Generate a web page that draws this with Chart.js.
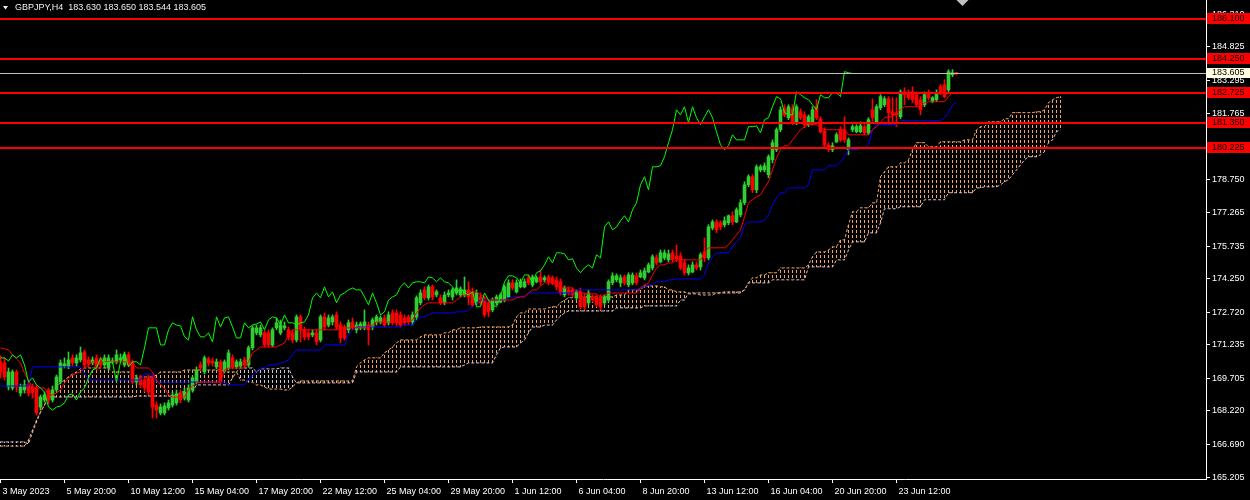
<!DOCTYPE html>
<html><head><meta charset="utf-8">
<script src="https://cdn.jsdelivr.net/npm/chart.js@4.4.0/dist/chart.umd.min.js"></script>
<style>html,body{margin:0;padding:0;background:#000;overflow:hidden}canvas{display:block}</style>
</head><body>
<canvas id="c" width="1250" height="500"></canvas>
<script>
const symbolTitle = "GBPJPY,H4  183.630 183.650 183.544 183.605";

const openP = [
170.46,170.41,169.32,169.27,170.00,169.04,169.18,169.41,169.32,169.27,
168.40,168.72,169.18,168.72,169.18,169.54,170.27,170.23,170.64,170.41,
170.55,170.91,170.55,170.41,170.64,170.55,170.32,170.18,170.46,170.46,
170.55,170.32,170.78,170.41,169.54,169.73,169.63,169.73,169.73,168.49,
168.13,168.13,168.36,168.49,168.59,169.04,168.81,168.72,169.18,169.54,
170.32,170.00,170.59,170.50,170.23,170.46,170.05,170.18,170.64,170.23,
170.27,170.55,170.32,171.10,171.78,171.69,171.78,171.78,171.23,172.01,
171.78,172.01,171.92,171.78,171.46,172.51,171.92,171.78,171.69,171.78,
171.46,172.51,172.14,172.28,172.60,172.14,172.05,171.92,172.28,171.92,
172.01,172.01,172.14,172.05,172.28,172.28,172.46,172.24,172.69,172.69,
172.60,172.46,172.51,172.28,172.51,173.15,173.74,173.38,173.88,173.51,
173.38,173.15,173.51,173.42,173.60,173.51,173.51,173.74,173.65,173.15,
173.42,173.28,173.15,172.83,173.15,173.19,173.28,173.42,174.06,173.65,
173.88,173.88,174.29,173.97,174.11,174.33,174.20,174.33,174.29,174.20,
174.11,173.51,173.74,173.74,173.38,173.65,173.42,173.15,173.42,173.42,
173.38,173.15,173.28,174.06,174.20,174.06,174.33,173.97,174.06,174.38,
174.33,174.29,174.56,174.74,175.20,175.02,175.20,175.11,175.43,175.29,
175.29,174.97,174.52,174.56,174.88,174.79,175.47,175.20,176.57,176.84,
176.80,176.71,176.80,177.12,176.84,177.16,177.71,178.53,178.90,178.30,
179.21,179.21,178.99,179.67,180.13,181.04,182.00,181.59,182.00,181.36,
181.86,181.72,181.27,181.36,182.09,181.54,180.99,180.35,180.13,180.49,
181.04,181.04,180.13,181.04,180.95,180.95,181.18,180.90,181.95,181.40,
182.04,182.18,182.45,181.86,181.82,181.63,182.77,182.73,182.77,182.64,
182.41,182.18,182.73,182.32,182.41,183.00,183.09,182.86,183.55,183.630];

const highP = [
170.73,170.64,170.18,170.09,170.09,169.45,169.63,169.54,169.45,169.41,
168.95,169.09,169.27,169.36,169.86,170.55,170.64,170.91,170.78,170.78,
171.14,171.00,170.68,170.68,170.78,170.68,170.78,170.78,170.64,171.00,
170.82,170.91,170.91,170.55,169.86,169.86,169.77,169.86,169.82,168.63,
168.54,168.59,168.72,169.09,169.18,169.18,169.27,169.41,169.82,170.23,
170.46,170.73,170.68,170.64,170.59,170.55,170.55,171.00,170.78,170.55,
170.59,170.68,171.19,172.10,172.14,172.14,171.92,171.92,172.01,172.46,
172.37,172.28,172.05,171.92,172.60,172.60,172.05,171.92,171.92,171.92,
172.60,172.69,172.60,172.60,172.74,172.28,172.14,172.37,172.46,172.28,
172.28,172.83,172.28,172.46,172.60,172.55,172.60,172.74,172.83,172.83,
172.74,172.60,172.60,172.74,173.47,173.74,173.88,173.97,173.97,173.74,
173.51,173.65,173.74,173.83,174.20,173.88,174.33,174.11,173.83,173.74,
173.60,173.42,173.28,173.38,173.51,173.60,173.97,174.20,174.20,174.20,
174.24,174.24,174.42,174.42,174.38,174.65,174.38,174.42,174.38,174.33,
174.24,173.92,173.88,173.83,173.74,173.83,173.60,173.74,173.51,173.51,
173.51,173.51,174.20,174.52,174.47,174.42,174.42,174.52,174.52,174.52,
174.65,174.74,174.97,175.34,175.34,175.56,175.56,175.56,175.56,175.79,
175.43,175.11,174.88,175.02,175.02,175.43,176.11,176.71,176.93,176.93,
176.89,177.07,177.16,177.30,177.48,177.85,178.67,178.99,178.99,179.44,
179.44,179.53,179.90,180.58,181.13,182.09,182.18,182.18,182.18,182.18,
182.00,181.86,181.72,182.09,182.41,181.63,181.13,180.45,180.45,180.90,
181.18,181.63,180.67,181.27,181.27,181.40,181.27,181.59,182.45,182.18,
182.64,182.55,182.55,182.50,182.50,182.86,182.96,182.86,183.00,182.77,
182.55,182.77,182.86,182.55,182.86,183.09,183.32,183.78,183.78,183.650];

const lowP = [
169.73,169.63,169.18,169.18,169.09,168.90,169.04,168.90,168.81,168.04,
168.26,168.63,168.54,168.63,169.09,169.45,170.18,170.14,170.27,170.27,
170.46,170.23,170.23,170.32,170.09,170.18,170.18,170.09,170.37,170.37,
170.46,170.23,170.23,169.45,169.41,169.27,169.09,168.95,167.90,167.90,
168.04,168.04,168.26,168.40,168.49,168.59,168.72,168.63,169.09,169.45,
170.05,169.91,170.27,170.27,170.14,169.45,169.95,170.09,170.14,170.14,
170.18,170.23,170.23,171.00,171.69,171.60,171.14,171.14,171.14,171.92,
171.69,171.92,171.46,171.32,171.37,171.37,171.46,171.46,171.60,171.23,
171.37,171.92,172.05,172.14,171.92,171.32,171.46,171.78,171.92,171.78,
171.92,171.92,171.23,171.92,172.14,172.19,172.05,172.14,172.14,172.10,
172.05,172.14,172.14,172.14,172.37,173.06,173.28,173.28,173.28,173.42,
173.06,173.06,173.42,173.28,173.51,173.42,173.42,173.06,172.97,173.06,
173.06,172.51,172.51,172.74,173.06,173.15,173.19,173.38,173.74,173.60,
173.83,173.83,173.97,173.88,174.06,173.97,174.11,173.97,173.97,173.74,
173.51,173.42,173.51,173.42,173.28,172.87,172.83,173.06,173.19,172.97,
172.83,173.06,173.19,173.97,174.11,173.88,173.97,173.88,173.97,173.97,
174.29,174.20,174.52,174.65,174.88,174.97,175.11,175.02,175.02,175.02,
174.65,174.42,174.42,174.52,174.65,174.65,175.02,175.11,176.48,176.34,
176.48,176.61,176.71,176.71,176.80,177.07,177.62,178.44,178.17,178.17,
179.12,179.12,178.85,179.53,180.04,180.95,181.63,181.50,181.27,181.27,
181.50,181.13,181.18,181.27,181.50,180.90,180.26,180.04,180.04,180.45,
180.49,180.45,179.90,180.95,180.90,180.90,180.81,180.81,181.36,181.36,
181.95,182.09,181.27,181.36,181.18,181.54,182.18,182.41,182.27,182.09,
181.72,182.09,182.41,182.27,182.32,182.64,182.50,182.77,183.46,183.544];

const closeP = [
170.00,169.77,170.00,170.00,169.32,169.32,169.41,169.04,169.04,168.13,
168.86,168.95,168.72,169.18,169.77,170.41,170.37,170.55,170.41,170.64,
170.87,170.32,170.37,170.55,170.23,170.32,170.64,170.64,170.50,170.78,
170.64,170.78,170.32,169.54,169.73,169.41,169.27,169.09,168.40,168.26,
168.40,168.45,168.59,168.95,169.00,168.72,169.09,169.27,169.73,170.09,
170.18,170.64,170.41,170.41,170.46,169.54,170.46,170.87,170.23,170.46,
170.46,170.32,171.10,172.01,172.01,172.01,171.23,171.23,171.92,172.24,
172.14,172.10,171.60,171.46,172.51,171.92,171.60,171.60,171.78,171.37,
172.51,172.05,172.46,172.51,172.05,171.55,171.55,172.24,172.01,172.14,
172.19,172.28,171.92,172.37,172.51,172.46,172.14,172.60,172.24,172.24,
172.14,172.24,172.28,172.60,173.38,173.60,173.38,173.88,173.42,173.65,
173.15,173.51,173.60,173.74,173.83,173.74,173.74,173.42,173.06,173.60,
173.15,172.60,172.74,173.28,173.42,173.51,173.88,174.06,173.83,174.06,
174.11,174.11,174.06,174.33,174.29,174.11,174.29,174.11,174.06,173.88,
173.60,173.83,173.60,173.51,173.65,172.97,172.97,173.60,173.28,173.06,
172.97,173.42,174.11,174.38,174.38,174.29,174.06,174.42,174.42,174.06,
174.52,174.61,174.88,175.25,174.97,175.43,175.43,175.38,175.11,175.16,
174.74,174.52,174.74,174.88,174.74,175.34,175.20,176.61,176.84,176.48,
176.61,176.89,177.12,176.84,177.39,177.71,178.53,178.90,178.30,179.35,
179.35,179.40,179.81,180.45,181.04,181.95,181.72,182.09,181.36,182.09,
181.59,181.27,181.63,181.95,181.59,180.95,180.35,180.13,180.31,180.81,
180.58,180.58,180.58,181.18,181.18,181.22,180.90,181.50,181.59,182.09,
182.55,182.45,181.82,181.72,181.72,182.77,182.64,182.50,182.41,182.18,
181.95,182.64,182.50,182.50,182.73,182.73,182.55,183.69,183.64,183.605];

const tenkanSen = [
171.10,171.05,171.00,170.78,170.59,170.41,169.95,169.63,169.27,169.27,
169.27,169.27,168.95,168.95,169.04,169.18,169.50,169.73,169.86,169.95,
170.00,170.18,170.32,170.46,170.46,170.46,170.46,170.46,170.46,170.46,
170.46,170.46,170.46,170.46,170.18,170.18,170.18,170.18,170.00,169.63,
169.41,169.27,168.95,168.86,168.86,168.86,168.86,169.18,169.36,169.50,
169.54,169.54,169.54,169.54,169.54,169.54,170.09,170.18,170.18,170.18,
170.18,170.18,170.46,170.87,171.00,171.14,171.14,171.14,171.14,171.14,
171.23,171.32,171.69,171.92,171.92,171.92,171.92,171.92,171.92,171.92,
171.92,171.92,171.92,171.92,171.92,172.01,172.01,172.01,172.01,172.01,
172.01,172.01,172.01,172.14,172.28,172.28,172.28,172.28,172.28,172.28,
172.28,172.28,172.28,172.37,172.69,172.92,173.06,173.15,173.15,173.15,
173.15,173.15,173.15,173.15,173.28,173.42,173.51,173.65,173.65,173.65,
173.51,173.42,173.28,173.28,173.28,173.28,173.28,173.28,173.28,173.38,
173.42,173.42,173.60,173.74,173.74,173.92,174.06,174.06,174.06,173.97,
173.83,173.83,173.83,173.83,173.65,173.65,173.56,173.56,173.56,173.56,
173.42,173.51,173.60,173.60,173.60,173.60,173.60,173.60,173.60,173.60,
173.83,173.97,174.06,174.42,174.74,174.88,174.88,174.97,174.97,175.11,
175.11,175.11,175.11,175.11,175.11,175.11,175.43,175.66,175.66,175.66,
175.66,175.66,175.79,176.02,176.25,176.48,177.07,177.71,177.85,177.98,
178.07,178.39,178.67,179.21,179.76,180.13,180.31,180.31,180.58,180.81,
181.04,181.18,181.27,181.27,181.27,181.13,181.04,181.04,181.04,181.04,
181.04,181.04,180.81,180.81,180.81,180.81,180.81,180.81,181.04,181.18,
181.40,181.59,181.63,181.63,181.82,181.95,182.09,182.09,182.09,182.09,
182.09,182.27,182.32,182.32,182.32,182.32,182.32,182.55,182.73,182.73];

const kijunSen = [
169.36,169.36,169.36,169.36,169.36,169.36,169.36,169.36,170.23,170.23,
170.23,170.23,170.23,170.23,170.23,170.23,170.23,170.23,170.23,170.23,
170.23,169.95,169.63,169.63,169.63,169.63,169.63,169.63,169.63,169.63,
169.63,169.63,169.63,169.63,169.63,169.63,169.91,169.91,169.91,169.54,
169.54,169.54,169.54,169.54,169.54,169.54,169.54,169.54,169.54,169.54,
169.54,169.54,169.54,169.54,169.54,169.54,169.54,169.41,169.41,169.41,
169.41,169.41,169.63,169.82,170.00,170.18,170.18,170.32,170.32,170.32,
170.41,170.46,170.55,170.78,171.00,171.00,171.00,171.00,171.00,171.00,
171.00,171.23,171.23,171.23,171.23,171.23,171.23,171.69,171.92,172.05,
172.05,172.05,172.05,172.05,172.05,172.05,172.05,172.05,172.05,172.05,
172.05,172.14,172.14,172.14,172.37,172.51,172.51,172.60,172.69,172.69,
172.69,172.69,172.69,172.69,172.74,172.74,172.74,172.83,172.97,173.15,
173.28,173.28,173.28,173.28,173.28,173.28,173.28,173.38,173.42,173.42,
173.42,173.42,173.60,173.60,173.60,173.60,173.60,173.60,173.60,173.60,
173.60,173.60,173.60,173.60,173.74,173.74,173.74,173.74,173.74,173.74,
173.74,173.74,173.74,173.74,173.74,173.74,173.74,173.74,173.74,173.74,
173.83,173.88,173.97,173.97,174.11,174.11,174.11,174.20,174.20,174.24,
174.24,174.24,174.24,174.24,174.24,174.24,174.42,174.97,175.25,175.43,
175.43,175.43,175.43,175.70,175.93,176.11,176.71,176.84,176.84,176.84,
176.84,176.93,177.16,177.62,177.94,178.17,178.17,178.39,178.39,178.39,
178.39,178.39,178.53,179.21,179.21,179.21,179.21,179.40,179.40,179.40,
179.58,179.81,180.13,180.13,180.13,180.22,180.22,180.35,181.04,181.27,
181.27,181.27,181.27,181.27,181.27,181.45,181.45,181.45,181.45,181.45,
181.45,181.45,181.45,181.45,181.45,181.45,181.59,181.82,182.18,182.27];

const senkouA = [
166.62,166.62,166.62,166.62,166.62,166.62,166.62,166.90,167.35,167.81,
168.17,168.49,168.90,169.18,169.36,169.50,169.63,169.77,169.91,170.00,
170.14,170.18,170.18,170.18,170.18,170.18,170.18,170.18,170.00,170.00,
170.00,170.00,170.00,170.00,169.77,169.77,169.77,169.77,169.77,169.86,
170.00,170.00,170.00,170.00,170.00,170.00,170.09,170.09,170.09,170.09,
170.09,170.09,170.09,170.09,170.09,170.09,170.00,170.00,170.00,170.00,
169.63,169.63,169.54,169.54,169.41,169.41,169.32,169.22,169.22,169.22,
169.22,169.18,169.18,169.32,169.50,169.59,169.59,169.59,169.59,169.59,
169.59,169.59,169.59,169.59,169.59,169.59,169.59,169.59,169.59,170.23,
170.41,170.55,170.64,170.64,170.64,170.64,170.87,171.00,171.14,171.32,
171.46,171.46,171.46,171.46,171.46,171.60,171.69,171.69,171.69,171.69,
171.69,171.78,171.78,171.92,171.92,172.01,172.01,172.01,172.01,172.01,
172.05,172.05,172.05,172.05,172.05,172.05,172.05,172.05,172.14,172.51,
172.69,172.69,172.87,172.87,172.87,172.87,172.87,172.92,172.97,172.97,
173.15,173.28,173.38,173.38,173.42,173.42,173.42,173.42,173.42,173.42,
173.42,173.42,173.42,173.42,173.51,173.51,173.51,173.74,173.74,173.74,
173.74,173.92,173.92,173.92,173.92,173.88,173.88,173.74,173.74,173.65,
173.65,173.65,173.56,173.56,173.56,173.51,173.51,173.51,173.51,173.60,
173.60,173.65,173.65,173.65,173.65,173.65,173.74,174.06,174.29,174.29,
174.42,174.42,174.52,174.52,174.52,174.74,174.74,174.74,174.74,174.74,
174.74,174.74,174.88,175.25,175.47,175.47,175.47,175.56,175.70,175.70,
176.02,176.02,176.71,177.30,177.30,177.48,177.48,177.48,177.71,177.71,
178.90,179.12,179.35,179.35,179.35,179.53,179.53,179.67,180.13,180.45,
180.45,180.45,180.26,180.26,180.26,180.49,180.49,180.49,180.49,180.49,
180.49,180.58,180.58,180.58,181.04,181.18,181.18,181.40,181.40,181.40,
181.40,181.54,181.54,181.82,181.82,181.82,181.82,181.82,181.82,181.86,
181.86,181.95,182.27,182.41,182.50,182.55];

const senkouB = [
166.81,166.81,166.81,166.81,166.81,166.81,166.81,166.72,167.26,167.72,
168.17,168.49,168.86,168.86,168.86,168.86,168.86,168.86,168.86,168.86,
168.86,168.86,168.86,168.86,168.86,168.86,168.86,168.86,168.86,168.86,
168.86,168.86,168.86,168.86,168.90,168.90,168.90,168.90,168.90,168.90,
168.90,168.90,168.90,168.90,168.90,169.09,169.09,169.09,169.09,169.41,
169.41,169.41,169.41,169.41,169.41,169.41,169.41,169.41,169.73,170.00,
170.18,170.18,170.18,170.18,170.00,170.14,170.14,170.14,170.14,170.14,
170.18,170.18,170.18,169.77,169.50,169.50,169.50,169.50,169.50,169.50,
169.50,169.50,169.50,169.50,169.50,169.50,169.50,169.50,169.50,170.00,
170.00,170.00,170.00,170.00,170.00,170.00,170.00,170.00,170.00,170.00,
170.23,170.23,170.23,170.23,170.23,170.23,170.23,170.23,170.23,170.23,
170.23,170.23,170.23,170.23,170.23,170.23,170.32,170.41,170.41,170.41,
170.41,170.41,170.41,170.41,170.78,171.10,171.14,171.14,171.14,171.14,
171.32,171.46,171.78,172.05,172.05,172.05,172.14,172.14,172.14,172.37,
172.55,172.69,172.78,172.78,172.78,172.78,172.78,172.78,172.78,172.78,
172.78,172.78,172.78,172.78,172.92,172.92,172.92,172.92,172.92,172.92,
172.92,173.01,173.01,173.01,173.01,173.01,173.01,173.01,173.01,173.01,
173.28,173.28,173.60,173.60,173.60,173.60,173.60,173.60,173.60,173.60,
173.60,173.60,173.60,173.60,173.60,173.60,173.74,174.06,174.06,174.06,
174.06,174.06,174.06,174.20,174.20,174.20,174.20,174.20,174.20,174.20,
174.20,174.20,174.79,174.79,174.79,174.79,174.79,174.79,174.79,175.11,
175.11,175.11,175.56,175.93,175.93,175.93,175.93,176.34,176.34,176.34,
176.80,177.44,177.44,177.44,177.44,177.53,177.53,177.53,177.53,177.53,
177.53,177.85,177.85,177.85,177.85,177.85,177.85,178.17,178.17,178.17,
178.17,178.17,178.17,178.17,178.39,178.39,178.44,178.44,178.44,178.44,
178.53,178.67,178.76,178.99,179.21,179.44,179.67,179.81,179.81,179.81,
179.90,180.04,180.45,180.58,180.95,181.04];

const chikouShift = 26;
const levelLines = [186.100, 184.250, 182.725, 181.350, 180.225];
const currentPrice = 183.605;
const yTickValues = [186.310,184.825,183.295,181.765,180.280,178.750,177.265,175.735,174.250,172.720,171.235,169.705,168.220,166.690,165.205];
const xTickIndex = [0,16,32,48,64,80,96,112,128,144,160,176,192,208,224];
const xTickLabels = ["3 May 2023","5 May 20:00","10 May 12:00","15 May 04:00","17 May 20:00","22 May 12:00","25 May 04:00","29 May 20:00","1 Jun 12:00","6 Jun 04:00","8 Jun 20:00","13 Jun 12:00","16 Jun 04:00","20 Jun 20:00","23 Jun 12:00"];

const BULL = '#32CD32', BEAR = '#FF0000';
const FONT = '"Liberation Sans", Arial, sans-serif';
const canvas = document.getElementById('c');
const mainCtx = canvas.getContext('2d');
function dashPattern(color){
  const t = document.createElement('canvas'); t.width = 4; t.height = 5;
  const g = t.getContext('2d'); g.fillStyle = color; g.fillRect(0,0,1,3);
  return mainCtx.createPattern(t,'repeat');
}
const patSandy = dashPattern('#F4A460');
const patThistle = dashPattern('#D8BFD8');

const isBull = i => closeP[i] >= openP[i];

const bodies = openP.map((o,i)=>({x:i, y:[o, closeP[i]]}));
const wicks = lowP.map((l,i)=>({x:i, y:[l, highP[i]]}));
const cloud = senkouA.map((a,i)=>({x:i, y:[a, senkouB[i]]}));
const toXY = arr => arr.map((v,i)=>({x:i, y:v}));
const chikou = closeP.slice(chikouShift).map((v,j)=>({x:j, y:v}));

const overlay = {
  id:'overlay',
  beforeDraw(chart){
    const c = chart.ctx; c.save(); c.fillStyle='#000'; c.fillRect(0,0,chart.width,chart.height); c.restore();
  },
  afterDatasetsDraw(chart){
    const c = chart.ctx, a = chart.chartArea, ys = chart.scales.y;
    c.save();
    c.beginPath(); c.rect(a.left, a.top, a.right-a.left, a.bottom-a.top); c.clip();
    let yp = Math.round(ys.getPixelForValue(currentPrice)) + 0.5;
    c.strokeStyle = '#C0C0C0'; c.lineWidth = 1;
    c.beginPath(); c.moveTo(a.left, yp); c.lineTo(a.right, yp); c.stroke();
    c.strokeStyle = '#FF0000'; c.lineWidth = 2;
    levelLines.forEach(v=>{
      const y = Math.round(ys.getPixelForValue(v));
      c.beginPath(); c.moveTo(a.left, y); c.lineTo(a.right, y); c.stroke();
    });
    c.restore();
  },
  afterDraw(chart){
    const c = chart.ctx, a = chart.chartArea, ys = chart.scales.y, xs = chart.scales.x;
    c.save();
    c.font = '9px ' + FONT; c.textBaseline = 'middle'; c.textAlign = 'left';
    levelLines.forEach(v=>{
      const y = Math.round(ys.getPixelForValue(v));
      c.fillStyle = '#FF0000'; c.fillRect(a.right+1, y-6, 43, 11);
      c.fillStyle = '#000000'; c.fillText(v.toFixed(3), a.right+6, y);
    });
    const yc = Math.round(ys.getPixelForValue(currentPrice));
    c.fillStyle = '#FFFFE0'; c.fillRect(a.right+1, yc-5, 43, 10);
    c.fillStyle = '#000000'; c.fillText(currentPrice.toFixed(3), a.right+6, yc);
    c.fillStyle = '#F0F0F0';
    c.fillText(symbolTitle, 15, 8);
    c.beginPath(); c.moveTo(3,6); c.lineTo(8,6); c.lineTo(5.5,9.5); c.closePath(); c.fill();
    const xm = xs.getPixelForValue(closeP.length + 0.5);
    c.fillStyle = '#C0C0C0';
    c.beginPath(); c.moveTo(xm-6,0); c.lineTo(xm+6,0); c.lineTo(xm,6); c.closePath(); c.fill();
    c.restore();
  }
};

new Chart(canvas, {
  type:'bar',
  data:{ datasets:[
    {type:'line', data:chikou, borderColor:'#00FF00', borderWidth:1, pointRadius:0, tension:0, fill:false, order:1},
    {type:'line', data:toXY(tenkanSen), borderColor:'#FF0000', borderWidth:1, pointRadius:0, tension:0, fill:false, order:2},
    {type:'line', data:toXY(kijunSen), borderColor:'#0000FF', borderWidth:1, pointRadius:0, tension:0, fill:false, order:3},
    {type:'bar', data:bodies, grouped:false, barThickness:3, minBarLength:1, borderWidth:0,
      backgroundColor: ctx => isBull(ctx.dataIndex) ? BULL : BEAR, order:4},
    {type:'bar', data:wicks, grouped:false, barThickness:1, minBarLength:1, borderWidth:0,
      backgroundColor: ctx => isBull(ctx.dataIndex) ? BULL : BEAR, order:5},
    {type:'line', data:toXY(senkouA), borderColor:'#F4A460', borderWidth:1, borderDash:[3,2], pointRadius:0, tension:0, fill:false, order:6},
    {type:'line', data:toXY(senkouB), borderColor:'#D8BFD8', borderWidth:1, borderDash:[3,2], pointRadius:0, tension:0, fill:false, order:7},
    {type:'bar', data:cloud, grouped:false, barThickness:4, borderWidth:0,
      backgroundColor: ctx => senkouA[ctx.dataIndex] >= senkouB[ctx.dataIndex] ? patSandy : patThistle, order:8}
  ]},
  options:{
    responsive:false, animation:false, devicePixelRatio:1, events:[],
    layout:{padding:0},
    plugins:{legend:{display:false}, tooltip:{enabled:false}, title:{display:false}},
    scales:{
      x:{ type:'linear', min:-0.125, max:301.375, offset:false,
        afterBuildTicks: s => { s.ticks = xTickIndex.map(v=>({value:v})); },
        afterFit: s => { s.height = 21; s.paddingLeft = 0; s.paddingRight = 0; },
        ticks:{ autoSkip:false, maxRotation:0, minRotation:0, align:'start', labelOffset:2, padding:3,
          color:'#FFFFFF', font:{family:FONT, size:9}, callback:(v,i)=>xTickLabels[i] },
        grid:{ drawOnChartArea:false, drawTicks:true, tickLength:4, color:'#FFFFFF', offset:false },
        border:{ display:true, color:'#FFFFFF', width:1 }
      },
      y:{ type:'linear', position:'right', min:165.12, max:186.955, beginAtZero:false,
        afterBuildTicks: s => { s.ticks = yTickValues.map(v=>({value:v})); },
        afterFit: s => { s.width = 44; s.paddingTop = 0; s.paddingBottom = 0; },
        ticks:{ autoSkip:false, padding:2, color:'#FFFFFF', font:{family:FONT, size:9}, callback:v=>Number(v).toFixed(3) },
        grid:{ drawOnChartArea:false, drawTicks:true, tickLength:4, color:'#FFFFFF' },
        border:{ display:true, color:'#FFFFFF', width:1 }
      }
    }
  },
  plugins:[overlay]
});
</script>
</body></html>
